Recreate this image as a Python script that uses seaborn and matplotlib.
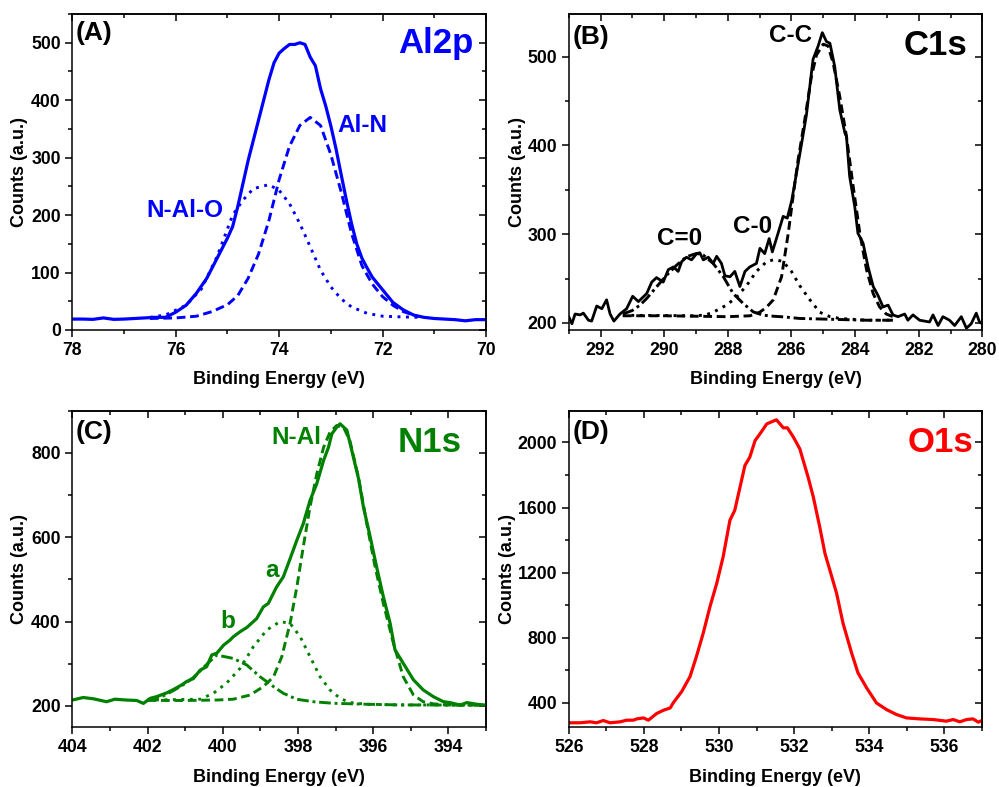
import matplotlib
matplotlib.use("Agg")
import matplotlib.pyplot as plt
import seaborn as sns
from matplotlib.ticker import MultipleLocator, NullFormatter

# ---------------- Panel A : Al2p ----------------
al_E = [78.0, 77.8, 77.6, 77.4, 77.2, 77.0, 76.8, 76.6, 76.4, 76.2, 76.0, 75.8, 75.6, 75.4,
        75.2, 75.0, 74.9, 74.8, 74.7, 74.6, 74.5, 74.4, 74.3, 74.2, 74.1, 74.0, 73.9, 73.8,
        73.7, 73.6, 73.5, 73.4, 73.3, 73.2, 73.1, 73.0, 72.9, 72.8, 72.7, 72.6, 72.5, 72.4,
        72.3, 72.2, 72.0, 71.8, 71.6, 71.4, 71.2, 71.0, 70.8, 70.6, 70.4, 70.2, 70.0]
al_counts = [19, 19, 18.5, 21, 18.5, 19, 20, 21, 22, 22, 31, 43, 64, 90,
             125, 160, 180, 215, 255, 295, 330, 365, 400, 435, 465, 482, 490, 497,
             497, 500, 497, 475, 460, 420, 390, 355, 315, 270, 226, 185, 150, 125,
             108, 92, 70, 48, 35, 26, 22, 20, 19, 18, 16, 18, 18]
alN_E = [76.5, 76.0, 75.6, 75.3, 75.0, 74.8, 74.6, 74.4, 74.2, 74.0, 73.8, 73.6, 73.4,
         73.2, 73.0, 72.8, 72.6, 72.4, 72.2, 72.0, 71.8, 71.6, 71.4, 71.3]
alN_counts = [20, 21, 24, 32, 44, 60, 90, 132, 190, 262, 320, 356, 370,
              356, 305, 240, 168, 112, 80, 58, 43, 32, 26, 23]
nalo_E = [76.5, 76.2, 75.8, 75.5, 75.2, 74.9, 74.7, 74.5, 74.2, 74.0, 73.8, 73.6, 73.4,
          73.2, 73.0, 72.8, 72.6, 72.3, 72.0, 71.7, 71.3]
nalo_counts = [22, 26, 43, 72, 128, 200, 226, 246, 253, 243, 220, 185, 145,
               104, 75, 54, 40, 29, 24, 23, 22]

# ---------------- Panel B : C1s ----------------
c_E = [293.0, 292.9, 292.8, 292.64, 292.54, 292.38, 292.28, 292.12, 291.96, 291.81, 291.7,
       291.58, 291.39, 291.18, 290.99, 290.81, 290.55, 290.39, 290.24, 290.03, 289.87, 289.71,
       289.56, 289.45, 289.30, 289.14, 288.98, 288.88, 288.77, 288.61, 288.46, 288.35, 288.20,
       288.09, 287.93, 287.78, 287.62, 287.46, 287.31, 287.10, 286.99, 286.84, 286.70, 286.60,
       286.42, 286.26, 286.13, 285.99, 285.84, 285.68, 285.53, 285.32, 285.16, 285.03, 284.90,
       284.79, 284.64, 284.48, 284.32, 284.27, 284.17, 284.01, 283.91, 283.75, 283.59, 283.43,
       283.28, 283.12, 282.96, 282.81, 282.65, 282.44, 282.34, 282.18, 281.97, 281.81, 281.66,
       281.55, 281.39, 281.24, 281.03, 280.87, 280.66, 280.50, 280.35, 280.19, 280.09, 280.0]
c_counts = [207, 199, 210, 209, 211, 203, 202, 219, 216, 226, 210,
            202, 210, 216, 230, 224, 233, 246, 251, 246, 260, 263,
            258, 269, 274, 271, 278, 279, 271, 274, 267, 275, 267,
            253, 252, 258, 241, 258, 263, 267, 284, 278, 295, 280,
            301, 320, 318, 338, 369, 402, 434, 497, 512, 527, 517,
            515, 489, 440, 414, 410, 365, 331, 301, 290, 263, 241,
            231, 218, 220, 209, 207, 210, 203, 209, 203, 202, 201,
            209, 197, 207, 203, 197, 207, 194, 199, 211, 201, 199]
cc_E = [291.3, 290.0, 289.0, 288.0, 287.3, 287.0, 286.8, 286.57, 286.31, 286.1, 285.95,
        285.79, 285.58, 285.37, 285.21, 285.0, 284.85, 284.69, 284.48, 284.27, 284.06,
        283.85, 283.64, 283.43, 283.23, 283.02, 282.81]
cc_counts = [208, 208, 207.5, 207, 208, 212, 217, 226, 252, 301, 342,
             384, 429, 478, 502, 514, 512, 493, 455, 410, 354,
             301, 260, 233, 218, 210, 207]
co_E = [291.3, 290.0, 289.0, 288.7, 288.46, 288.04, 287.73, 287.41, 287.10, 286.78, 286.52,
        286.26, 286.0, 285.74, 285.42, 285.11, 284.79, 284.48, 284.06, 283.64, 282.81]
co_counts = [208.5, 208.3, 208, 209, 212, 220, 229, 242, 258, 269, 271.5,
             269, 258, 242, 226, 212, 207, 205, 204, 203, 203]
cdo_E = [291.3, 291.0, 290.76, 290.55, 290.24, 289.92, 289.61, 289.30, 288.98, 288.77,
         288.46, 288.14, 287.83, 287.52, 287.20, 286.89, 286.57, 286.26, 285.74, 284.69,
         283.64, 282.81]
cdo_counts = [210, 214, 220, 227.5, 240.6, 253.8, 265, 274.5, 278.3, 276.4,
              267, 252, 233, 222, 212.4, 208.7, 207.5, 206.8, 205, 204,
              203, 203]

# ---------------- Panel C : N1s ----------------
n_E = [404.0, 403.71, 403.44, 403.09, 402.87, 402.56, 402.29, 402.11, 401.93, 401.76, 401.49,
       401.31, 401.09, 400.96, 400.78, 400.60, 400.43, 400.29, 400.16, 399.98, 399.81, 399.72,
       399.54, 399.36, 399.10, 398.92, 398.79, 398.57, 398.39, 398.21, 398.03, 397.86, 397.68,
       397.50, 397.32, 397.19, 397.10, 396.97, 396.88, 396.70, 396.57, 396.39, 396.26, 396.08,
       395.91, 395.73, 395.55, 395.42, 395.20, 394.93, 394.67, 394.40, 394.13, 393.96, 393.69,
       393.51, 393.25, 393.0]
n_counts = [214, 220, 217, 210, 216, 214, 213, 206, 218, 222, 231,
            239, 250, 258, 265, 285, 293, 321, 325, 344, 356, 364,
            376, 386, 407, 435, 443, 482, 506, 549, 593, 632, 687,
            727, 782, 813, 845, 861, 869, 854, 806, 739, 672, 601,
            530, 459, 396, 333, 301, 262, 238, 222, 210, 208, 202,
            208, 204, 202]
nal_E = [402.0, 401.0, 400.16, 399.72, 399.27, 398.92, 398.65, 398.43, 398.21, 398.03, 397.86,
         397.68, 397.50, 397.32, 397.15, 396.97, 396.79, 396.62, 396.39, 396.17, 395.95, 395.73,
         395.46, 395.20, 394.93, 394.67, 394.40, 394.04, 393.2]
nal_counts = [213, 213, 214, 216, 226, 246, 269, 317, 396, 482, 577,
              672, 750, 813, 849, 865, 861, 829, 742, 632, 530, 443,
              348, 269, 226, 210, 205, 202.4, 202]
na_E = [402.0, 400.60, 400.25, 399.90, 399.54, 399.19, 398.83, 398.48, 398.21, 397.94, 397.68,
        397.41, 397.15, 396.88, 396.62, 396.17, 395.29, 394.04, 393.2]
na_counts = [214, 216, 230, 254, 289, 340, 380, 400, 396, 364, 317,
             269, 238, 218, 208, 204, 202.4, 202.4, 202]
nb_E = [402.0, 401.6, 401.3, 401.0, 400.8, 400.6, 400.4, 400.16, 399.72, 399.36, 399.01,
        398.65, 398.39, 398.03, 397.59, 397.06, 396.17, 395.29, 393.2]
nb_counts = [214, 223, 237, 253, 266, 283, 301, 320.6, 312.7, 297, 269.4,
             245.7, 230, 215.8, 210, 206.3, 204, 202.4, 202]

# ---------------- Panel D : O1s ----------------
o_E = [526.0, 526.30, 526.57, 526.74, 526.92, 527.10, 527.37, 527.54, 527.72, 527.81, 527.99,
       528.12, 528.34, 528.52, 528.70, 528.78, 529.01, 529.23, 529.40, 529.58, 529.76, 529.94,
       530.11, 530.29, 530.42, 530.56, 530.69, 530.82, 530.96, 531.09, 531.27, 531.44, 531.53,
       531.71, 531.82, 531.98, 532.15, 532.24, 532.37, 532.51, 532.68, 532.82, 532.95, 533.13,
       533.30, 533.53, 533.70, 533.93, 534.19, 534.46, 534.72, 534.99, 535.34, 535.70, 536.05,
       536.23, 536.41, 536.59, 536.76, 536.90, 537.0]
o_counts = [278, 278, 284, 278, 292, 278, 284, 294, 294, 302, 308,
            294, 335, 355, 369, 400, 471, 563, 686, 829, 992, 1135,
            1298, 1522, 1584, 1727, 1859, 1910, 2012, 2053, 2114, 2131, 2139,
            2090, 2090, 2033, 1961, 1890, 1788, 1665, 1482, 1318, 1216, 1073,
            890, 706, 584, 492, 400, 359, 329, 308, 302, 298, 288,
            298, 284, 298, 302, 282, 292]

BLUE = "#0000FF"
GREEN = "#008000"
RED = "#FF0000"
BLACK = "#000000"

sns.set_style("ticks")
plt.rcParams["font.family"] = ["Liberation Sans", "DejaVu Sans"]
plt.rcParams["font.weight"] = "bold"
plt.rcParams["axes.labelweight"] = "bold"
plt.rcParams["axes.linewidth"] = 1.1
plt.rcParams["axes.edgecolor"] = "black"
plt.rcParams["axes.labelcolor"] = "black"
plt.rcParams["text.color"] = "black"
plt.rcParams["xtick.color"] = "black"
plt.rcParams["ytick.color"] = "black"
plt.rcParams["xtick.labelcolor"] = "black"
plt.rcParams["ytick.labelcolor"] = "black"
plt.rcParams["xtick.labelsize"] = 12.7
plt.rcParams["ytick.labelsize"] = 12.7

fig = plt.figure(figsize=(9.99, 7.87), dpi=100)
axA = fig.add_axes([0.0724, 0.5807, 0.4141, 0.4015])
axB = fig.add_axes([0.5693, 0.5807, 0.4140, 0.4015])
axC = fig.add_axes([0.0724, 0.0762, 0.4141, 0.4019])
axD = fig.add_axes([0.5693, 0.0762, 0.4137, 0.4019])

LW = 2.1
SOLID = "-"
DASH = (0, (3.0, 1.6))
DOT = (0, (1.0, 1.9))
DASHDOT = (0, (4.0, 1.3, 1.0, 1.3))


def line(ax, E, v, color, ls, lw=LW):
    sns.lineplot(x=E, y=v, ax=ax, color=color, linestyle=ls, linewidth=lw,
                 estimator=None, sort=False)


def style_axis(ax, xlim, ylim, xmaj, xmin, ymaj, ymin, ylab_x):
    ax.set_xlim(*xlim)
    ax.set_ylim(*ylim)
    ax.xaxis.set_major_locator(MultipleLocator(xmaj))
    ax.xaxis.set_minor_locator(MultipleLocator(xmin))
    ax.yaxis.set_major_locator(MultipleLocator(ymaj))
    ax.yaxis.set_minor_locator(MultipleLocator(ymin))
    ax.tick_params(which="both", direction="out", width=1.1, top=False, right=False,
                   colors="black")
    ax.tick_params(which="major", length=4.8)
    ax.tick_params(which="minor", length=2.6)
    for lab in ax.get_xticklabels() + ax.get_yticklabels():
        lab.set_fontweight("bold")
    for s in ax.spines.values():
        s.set_visible(True)
        s.set_color("black")
        s.set_linewidth(1.1)
    ax.set_xlabel("Binding Energy (eV)", fontsize=13, fontweight="bold", va="center",
                  color="black")
    ax.set_ylabel("Counts (a.u.)", fontsize=13, fontweight="bold", va="center",
                  color="black")
    ax.xaxis.set_label_coords(0.5, -0.158)
    ax.yaxis.set_label_coords(ylab_x, 0.5)
    # mirrored inward ticks on top and right
    top = ax.secondary_xaxis("top")
    top.xaxis.set_major_locator(MultipleLocator(xmaj))
    top.xaxis.set_minor_locator(MultipleLocator(xmin))
    top.xaxis.set_major_formatter(NullFormatter())
    top.tick_params(which="both", direction="in", width=1.1, colors="black")
    top.tick_params(which="major", length=4.8)
    top.tick_params(which="minor", length=2.6)
    right = ax.secondary_yaxis("right")
    right.yaxis.set_major_locator(MultipleLocator(ymaj))
    right.yaxis.set_minor_locator(MultipleLocator(ymin))
    right.yaxis.set_major_formatter(NullFormatter())
    right.tick_params(which="both", direction="in", width=1.1, colors="black")
    right.tick_params(which="major", length=4.8)
    right.tick_params(which="minor", length=2.6)


# Panel A
line(axA, al_E, al_counts, BLUE, SOLID, 2.3)
line(axA, alN_E, alN_counts, BLUE, DASH)
line(axA, nalo_E, nalo_counts, BLUE, DOT)
style_axis(axA, (78, 70), (0, 550), 2, 1, 100, 50, -0.128)
axA.text(0.007, 0.941, "(A)", transform=axA.transAxes, fontsize=19, fontweight="bold",
         ha="left", va="center", color=BLACK)
axA.text(0.969, 0.877, "Al2p", transform=axA.transAxes, fontsize=25, fontweight="bold",
         ha="right", va="baseline", color=BLUE)
axA.text(72.87, 344, "Al-N", fontsize=17.5, fontweight="bold", ha="left", va="baseline",
         color=BLUE)
axA.text(76.56, 196, "N-Al-O", fontsize=17.5, fontweight="bold", ha="left", va="baseline",
         color=BLUE)

# Panel B
line(axB, c_E, c_counts, BLACK, SOLID, 2.0)
line(axB, cc_E, cc_counts, BLACK, DASH)
line(axB, co_E, co_counts, BLACK, DOT)
line(axB, cdo_E, cdo_counts, BLACK, DASHDOT)
style_axis(axB, (293, 280), (192, 548), 2, 1, 100, 50, -0.123)
axB.text(0.010, 0.926, "(B)", transform=axB.transAxes, fontsize=19, fontweight="bold",
         ha="left", va="center", color=BLACK)
axB.text(0.965, 0.870, "C1s", transform=axB.transAxes, fontsize=25, fontweight="bold",
         ha="right", va="baseline", color=BLACK)
axB.text(286.70, 516, "C-C", fontsize=17.5, fontweight="bold", ha="left", va="baseline",
         color=BLACK)
axB.text(287.83, 301, "C-0", fontsize=17.5, fontweight="bold", ha="left", va="baseline",
         color=BLACK)
axB.text(290.24, 287.7, "C=0", fontsize=17.5, fontweight="bold", ha="left", va="baseline",
         color=BLACK)

# Panel C
line(axC, n_E, n_counts, GREEN, SOLID, 2.3)
line(axC, nal_E, nal_counts, GREEN, DASH)
line(axC, na_E, na_counts, GREEN, DOT)
line(axC, nb_E, nb_counts, GREEN, DASHDOT)
style_axis(axC, (404, 393), (150, 900), 2, 1, 200, 100, -0.128)
axC.text(0.007, 0.934, "(C)", transform=axC.transAxes, fontsize=19, fontweight="bold",
         ha="left", va="center", color=BLACK)
axC.text(0.941, 0.870, "N1s", transform=axC.transAxes, fontsize=25, fontweight="bold",
         ha="right", va="baseline", color=GREEN)
axC.text(398.70, 821, "N-Al", fontsize=17.5, fontweight="bold", ha="left", va="baseline",
         color=GREEN)
axC.text(398.875, 506, "a", fontsize=17.5, fontweight="bold", ha="left", va="baseline",
         color=GREEN)
axC.text(400.07, 384, "b", fontsize=17.5, fontweight="bold", ha="left", va="baseline",
         color=GREEN)

# Panel D
line(axD, o_E, o_counts, RED, SOLID, 2.3)
style_axis(axD, (526, 537), (252, 2195), 2, 1, 400, 200, -0.149)
axD.text(0.010, 0.934, "(D)", transform=axD.transAxes, fontsize=19, fontweight="bold",
         ha="left", va="center", color=BLACK)
axD.text(0.978, 0.870, "O1s", transform=axD.transAxes, fontsize=25, fontweight="bold",
         ha="right", va="baseline", color=RED)

fig.savefig("out.png", dpi=100)
